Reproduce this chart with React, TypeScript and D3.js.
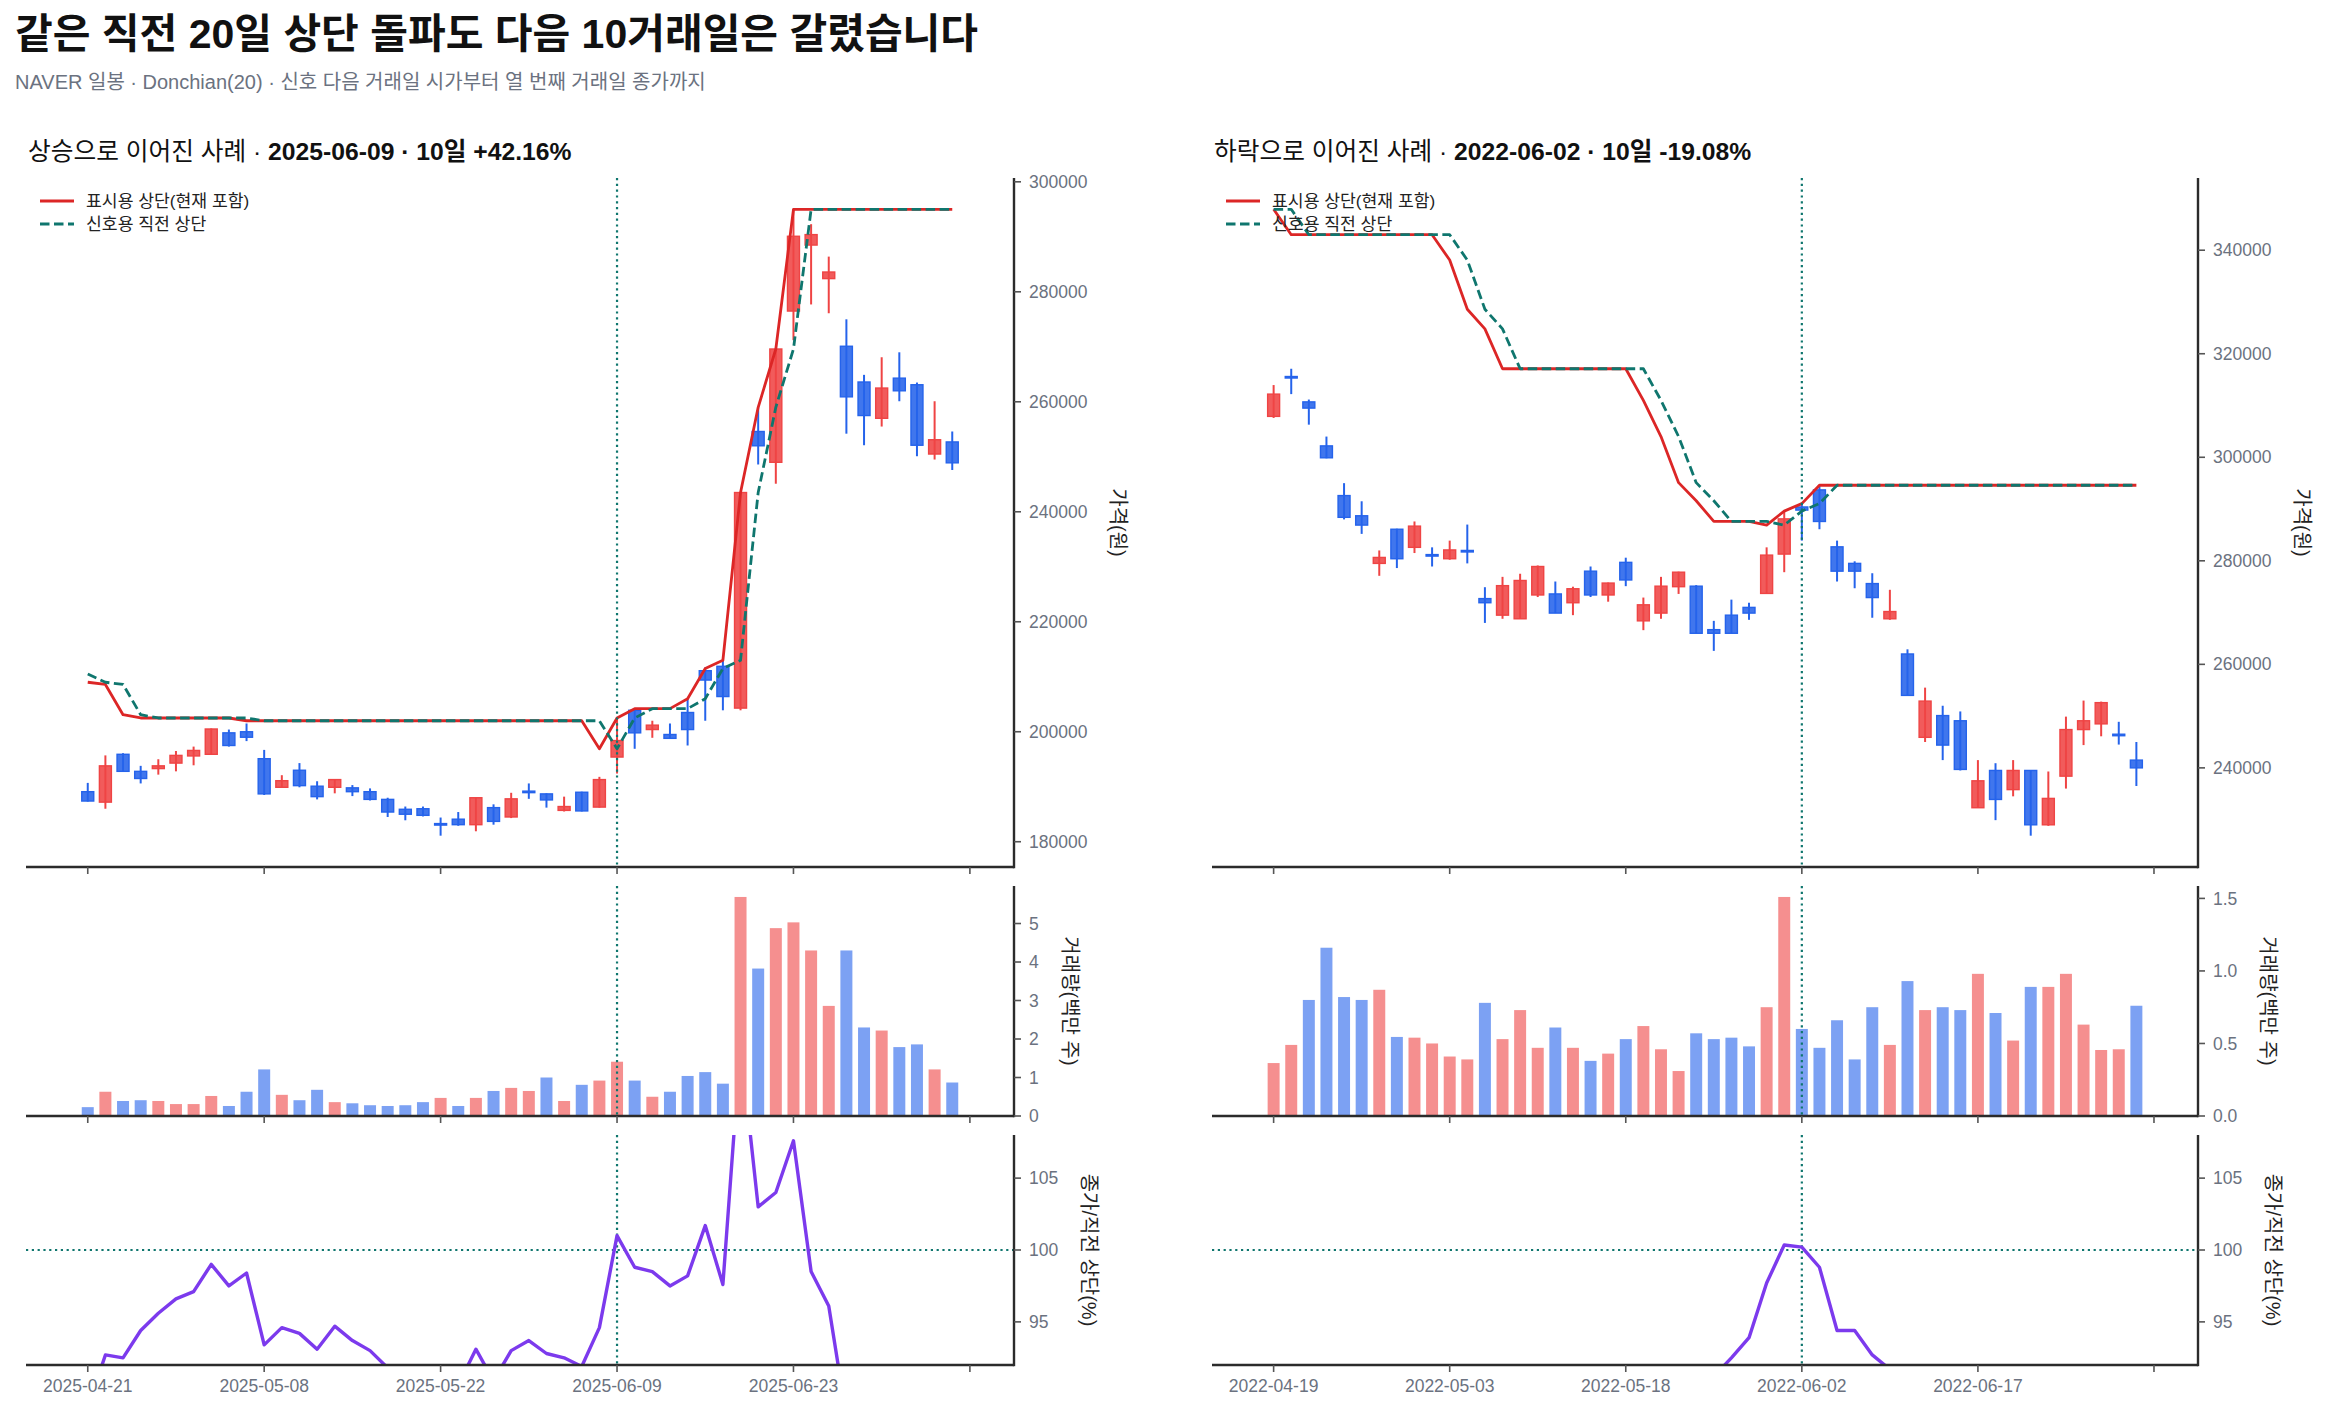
import * as d3 from 'd3';

// ---------- 상승으로 이어진 사례 (신호일 2025-06-09) ----------
const upDates = ['2025-04-21', '2025-05-08', '2025-05-22', '2025-06-09', '2025-06-23', ''];
const upOpen = [
  189100, 187200, 195900, 192800, 193300, 194300, 195600, 195900, 199800, 200000,
  195100, 189900, 193000, 190100, 189900, 189800, 189100, 187700, 185900, 186000,
  183300, 184100, 183100, 186200, 184500, 189200, 188700, 185700, 189000, 186300,
  195400, 203900, 200400, 199500, 203500, 211100, 211900, 204300, 254600, 249000,
  276500, 288500, 282400, 270100, 263600, 257000, 264300, 263100, 250500, 252700,
];
const upHigh = [
  190700, 195700, 196100, 193800, 195000, 196500, 197300, 200600, 200400, 201500,
  196700, 192100, 194300, 191000, 191300, 190300, 189700, 188000, 186400, 186400,
  184400, 185400, 188000, 186800, 188900, 190600, 188800, 188200, 189100, 191800,
  202500, 204300, 202000, 201500, 206000, 211700, 213000, 243500, 259000, 269700,
  295000, 292300, 286400, 275000, 264900, 268100, 269000, 263500, 260100, 254600,
];
const upLow = [
  187300, 186000, 192800, 190600, 192200, 192800, 193900, 195800, 197300, 198300,
  188500, 189800, 189900, 187700, 188800, 188300, 187500, 184500, 183900, 184600,
  181100, 182900, 181900, 183100, 184300, 187800, 186200, 185500, 185500, 186200,
  192400, 196900, 198900, 198700, 197500, 202000, 203900, 203900, 248600, 245100,
  271200, 277700, 276100, 254200, 252100, 255500, 260100, 250100, 249500, 247600,
];
const upClose = [
  187400, 193800, 192800, 191500, 193800, 195700, 196600, 200500, 197500, 199000,
  188700, 191100, 190200, 188200, 191300, 189100, 187700, 185400, 185000, 184800,
  183300, 183100, 188000, 183700, 187800, 189200, 187600, 186400, 185600, 191300,
  198400, 199800, 201200, 198800, 200400, 209400, 206400, 243500, 252000, 269600,
  290100, 290400, 283600, 260900, 257500, 262500, 262000, 252100, 253100, 248900,
];
// 표시용 상단(현재 포함)
const upUpperNow = [
  209000, 208600, 203100, 202500, 202500, 202500, 202500, 202500, 202500, 202000,
  202000, 202000, 202000, 202000, 202000, 202000, 202000, 202000, 202000, 202000,
  202000, 202000, 202000, 202000, 202000, 202000, 202000, 202000, 202000, 196900,
  202500, 204200, 204200, 204200, 206000, 211500, 213000, 243500, 259000, 269600,
  295000, 295000, 295000, 295000, 295000, 295000, 295000, 295000, 295000, 295000,
];
// 신호용 직전 상단
const upUpperPrev = [
  210500, 209000, 208600, 203100, 202500, 202500, 202500, 202500, 202500, 202500,
  202000, 202000, 202000, 202000, 202000, 202000, 202000, 202000, 202000, 202000,
  202000, 202000, 202000, 202000, 202000, 202000, 202000, 202000, 202000, 202000,
  196900, 202500, 204200, 204200, 204200, 206000, 211500, 213000, 243500, 259000,
  269600, 295000, 295000, 295000, 295000, 295000, 295000, 295000, 295000, 295000,
];
// 거래량(백만 주)
const upVolume = [
  0.23, 0.63, 0.39, 0.41, 0.39, 0.31, 0.31, 0.52, 0.26, 0.63,
  1.21, 0.55, 0.41, 0.68, 0.36, 0.33, 0.28, 0.26, 0.28, 0.36,
  0.47, 0.26, 0.47, 0.65, 0.73, 0.65, 1.0, 0.39, 0.81, 0.92,
  1.41, 0.92, 0.5, 0.63, 1.04, 1.14, 0.84, 5.69, 3.83, 4.88,
  5.03, 4.3, 2.86, 4.3, 2.3, 2.22, 1.79, 1.86, 1.21, 0.87,
];
// 종가/직전 상단(%)
const upRatio = [
  89.0, 92.7, 92.5, 94.4, 95.6, 96.6, 97.1, 99.0, 97.5, 98.4,
  93.4, 94.6, 94.2, 93.1, 94.7, 93.7, 93.0, 91.8, 91.6, 91.5,
  90.7, 90.6, 93.1, 90.9, 93.0, 93.7, 92.8, 92.5, 91.9, 94.6,
  101.0, 98.8, 98.5, 97.5, 98.2, 101.7, 97.6, 114.3, 103.0, 104.0,
  107.6, 98.5, 96.1, 88.4, 87.3, 89.0, 88.8, 85.5, 85.8, 84.4,
];
const upPriceTicks = [180000, 200000, 220000, 240000, 260000, 280000, 300000];
const upVolTicks = [0, 1, 2, 3, 4, 5];

// ---------- 하락으로 이어진 사례 (신호일 2022-06-02) ----------
const downDates = ['2022-04-19', '2022-05-03', '2022-05-18', '2022-06-02', '2022-06-17', ''];
const downOpen = [
  307900, 315600, 310700, 302200, 292600, 288700, 279500, 286100, 282600, 281200,
  280400, 282000, 272700, 269500, 268800, 273400, 273600, 271900, 278000, 273400,
  279700, 268400, 269900, 275000, 275100, 266700, 269500, 271000, 273700, 281300,
  290400, 293700, 282700, 279500, 275600, 268800, 262000, 245900, 250100, 249100,
  232300, 239500, 235800, 239500, 229000, 238400, 247400, 248500, 246500, 241500,
];
const downHigh = [
  313950, 317100, 311150, 304000, 295000, 291500, 282000, 286200, 287600, 282600,
  283900, 287000, 274900, 276900, 277500, 279100, 276000, 275000, 278900, 275800,
  280600, 272900, 276900, 277900, 275300, 268400, 272500, 271900, 282600, 289600,
  291000, 294600, 283900, 279900, 277600, 274400, 262900, 255500, 252000, 250900,
  241500, 240900, 241500, 239500, 239300, 249900, 253000, 252800, 248900, 245000,
];
const downLow = [
  307600, 312200, 306300, 299800, 288000, 285200, 277100, 278600, 281500, 278900,
  280200, 279500, 268000, 268800, 268800, 273000, 269900, 269500, 273000, 272100,
  275100, 266600, 268800, 273600, 266000, 262600, 266000, 268600, 273700, 277800,
  283900, 286100, 276000, 274700, 269000, 268600, 254000, 245000, 241500, 239500,
  232300, 229900, 234500, 226900, 228800, 236000, 244400, 246100, 244500, 236500,
];
const downClose = [
  312200, 315600, 309500, 299900, 288400, 286900, 280650, 280400, 286700, 281200,
  282100, 282000, 271900, 275200, 276200, 278900, 269900, 274600, 273400, 275700,
  276300, 271500, 275100, 277800, 266000, 266000, 266000, 269900, 281100, 288100,
  289800, 287600, 278000, 278000, 272900, 270200, 254000, 252900, 244400, 239700,
  237500, 233900, 239500, 229000, 234100, 247400, 249100, 252600, 246500, 240000,
];
const downUpperNow = [
  347900, 343000, 343000, 343000, 343000, 343000, 343000, 343000, 343000, 343000,
  338100, 328600, 324800, 317100, 317100, 317100, 317100, 317100, 317100, 317100,
  317100, 311000, 304000, 295100, 291600, 287600, 287600, 287600, 286900, 289600,
  291050, 294600, 294600, 294600, 294600, 294600, 294600, 294600, 294600, 294600,
  294600, 294600, 294600, 294600, 294600, 294600, 294600, 294600, 294600, 294600,
];
const downUpperPrev = [
  347900, 347900, 343000, 343000, 343000, 343000, 343000, 343000, 343000, 343000,
  343000, 338100, 328600, 324800, 317100, 317100, 317100, 317100, 317100, 317100,
  317100, 317100, 311000, 304000, 295100, 291600, 287600, 287600, 287600, 286900,
  289600, 291050, 294600, 294600, 294600, 294600, 294600, 294600, 294600, 294600,
  294600, 294600, 294600, 294600, 294600, 294600, 294600, 294600, 294600, 294600,
];
const downVolume = [
  0.365, 0.49, 0.8, 1.16, 0.82, 0.8, 0.87, 0.545, 0.54, 0.5,
  0.41, 0.39, 0.78, 0.53, 0.73, 0.47, 0.61, 0.47, 0.38, 0.43,
  0.53, 0.62, 0.46, 0.31, 0.57, 0.53, 0.54, 0.48, 0.75, 1.51,
  0.6, 0.47, 0.66, 0.39, 0.75, 0.49, 0.93, 0.73, 0.75, 0.73,
  0.98, 0.71, 0.52, 0.89, 0.89, 0.98, 0.63, 0.455, 0.46, 0.76,
];
const downRatio = [
  89.7, 90.7, 90.2, 87.4, 84.1, 83.6, 81.8, 81.7, 83.6, 82.0,
  82.2, 83.4, 82.7, 84.7, 87.1, 88.0, 85.1, 86.6, 86.2, 86.9,
  87.1, 85.6, 88.5, 91.4, 90.1, 91.2, 92.5, 93.9, 97.7, 100.35,
  100.2, 98.8, 94.4, 94.4, 92.7, 91.7, 86.2, 85.8, 83.0, 81.4,
  80.6, 79.4, 81.3, 77.7, 79.5, 84.0, 84.6, 85.7, 83.6, 81.5,
];
const downPriceTicks = [240000, 260000, 280000, 300000, 320000, 340000];
const downVolTicks = [0, 0.5, 1.0, 1.5];

const ratioTicks = [95, 100, 105];
const legendLabels = ['표시용 상단(현재 포함)', '신호용 직전 상단'];
const SIGNAL = 30;

// ---------- layout ----------
const W = 2328;
const H = 1411;
const FONT = '"Liberation Sans", "Noto Sans CJK KR", sans-serif';
const PRICE = { top: 178, bottom: 867 };
const VOL = { top: 886, bottom: 1116 };
const RATIO = { top: 1135, bottom: 1365 };

const UP = '#ef4444';
const DOWN = '#2563eb';
const NOW_COLOR = '#dc2626';
const PREV_COLOR = '#0f766e';
const RATIO_COLOR = '#7c3aed';
const INK = '#2b2b2b';
const MUTED = '#6b7280';
const TICK_SIZE = 17.5;

const textW = (s: string) =>
  [...s].reduce((a, c) => a + (c === '.' ? 0.278 : 0.556), 0) * TICK_SIZE;

interface PanelProps {
  id: string;
  left: number;
  right: number;
  heading: string;
  headingBold: string;
  dates: string[];
  open: number[];
  high: number[];
  low: number[];
  close: number[];
  upperNow: number[];
  upperPrev: number[];
  volume: number[];
  ratio: number[];
  priceTicks: number[];
  volTicks: number[];
  volDigits: number;
}

const Panel = (p: PanelProps) => {
  const x = d3.scaleLinear().domain([-3.5, 52.5]).range([p.left, p.right]);
  const step = x(1) - x(0);
  const bw = step * 0.68;

  const [pmin, pmax] = d3.extent([...p.high, ...p.low, ...p.upperNow, ...p.upperPrev]) as [number, number];
  const pad = (pmax - pmin) * 0.05;
  const yP = d3.scaleLinear().domain([pmin - pad, pmax + pad]).range([PRICE.bottom, PRICE.top]);
  const yV = d3.scaleLinear().domain([0, d3.max(p.volume)! * 1.05]).range([VOL.bottom, VOL.top]);
  const yR = d3.scaleLinear().domain([92, 108]).range([RATIO.bottom, RATIO.top]);

  const idx = d3.range(p.close.length);
  const xTicks = d3.range(0, 51, 10);
  const priceLine = d3.line<number>().x((_, i) => x(i)).y(d => yP(d));
  const ratioLine = d3.line<number>().x((_, i) => x(i)).y(d => yR(d));
  const sx = x(SIGNAL);

  const priceFmt = (v: number) => String(v);
  const volFmt = (v: number) => v.toFixed(p.volDigits);
  const ratioFmt = (v: number) => String(v);

  const rightAxis = (
    top: number,
    bottom: number,
    ticks: number[],
    scale: d3.ScaleLinear<number, number>,
    fmt: (v: number) => string,
    label: string,
  ) => {
    const maxW = d3.max(ticks, t => textW(fmt(t)))!;
    const lx = p.right + 15 + maxW + 31;
    return (
      <g>
        <line x1={p.left} x2={p.right} y1={bottom} y2={bottom} stroke={INK} strokeWidth={2.4} />
        <line x1={p.right} x2={p.right} y1={top} y2={bottom + 1.2} stroke={INK} strokeWidth={2.4} />
        {xTicks.map(t => (
          <line key={t} x1={x(t)} x2={x(t)} y1={bottom} y2={bottom + 7} stroke="#555" strokeWidth={1.6} />
        ))}
        {ticks.map(t => (
          <g key={t}>
            <line x1={p.right} x2={p.right + 7} y1={scale(t)} y2={scale(t)} stroke="#555" strokeWidth={1.6} />
            <text x={p.right + 15} y={scale(t)} dy="0.35em" fontSize={TICK_SIZE} fill={MUTED}>
              {fmt(t)}
            </text>
          </g>
        ))}
        <text
          transform={`translate(${lx},${(top + bottom) / 2}) rotate(90)`}
          textAnchor="middle"
          dy="0.35em"
          fontSize={20}
          fill="#222"
        >
          {label}
        </text>
      </g>
    );
  };

  const signalLine = (top: number, bottom: number) => (
    <line x1={sx} x2={sx} y1={top} y2={bottom} stroke={PREV_COLOR} strokeWidth={2.2} strokeDasharray="2.2,3.6" />
  );

  return (
    <g fontFamily={FONT}>
      <text x={p.left + 2} y={160} fontSize={24.7} fill="#111">
        {p.heading}
        <tspan fontWeight="bold">{p.headingBold}</tspan>
      </text>

      {/* price */}
      {idx.map(i => {
        const o = p.open[i];
        const c = p.close[i];
        const col = c > o ? UP : DOWN;
        const yt = yP(Math.max(o, c));
        const yb = yP(Math.min(o, c));
        return (
          <g key={i}>
            <line x1={x(i)} x2={x(i)} y1={yP(p.high[i])} y2={yP(p.low[i])} stroke={col} strokeWidth={2} />
            <rect
              x={x(i) - bw / 2}
              y={yt}
              width={bw}
              height={Math.max(yb - yt, 1.5)}
              fill={col}
              fillOpacity={0.88}
              stroke={col}
              strokeWidth={1.4}
            />
          </g>
        );
      })}
      <path d={priceLine(p.upperNow)!} fill="none" stroke={NOW_COLOR} strokeWidth={2.8} strokeLinejoin="round" />
      <path
        d={priceLine(p.upperPrev)!}
        fill="none"
        stroke={PREV_COLOR}
        strokeWidth={2.8}
        strokeDasharray="9.5,4.5"
        strokeLinejoin="round"
      />
      {signalLine(PRICE.top, PRICE.bottom)}
      {rightAxis(PRICE.top, PRICE.bottom, p.priceTicks, yP, priceFmt, '가격(원)')}

      {legendLabels.map((lab, k) => {
        const ly = 201 + k * 23;
        return (
          <g key={lab}>
            <line
              x1={p.left + 14}
              x2={p.left + 48}
              y1={ly}
              y2={ly}
              stroke={k === 0 ? NOW_COLOR : PREV_COLOR}
              strokeWidth={2.8}
              strokeDasharray={k === 0 ? undefined : '9.5,4.5'}
            />
            <text x={p.left + 60} y={ly} dy="0.35em" fontSize={17.2} fill="#222">
              {lab}
            </text>
          </g>
        );
      })}

      {/* volume */}
      {idx.map(i => (
        <rect
          key={i}
          x={x(i) - bw / 2}
          y={yV(p.volume[i])}
          width={bw}
          height={VOL.bottom - yV(p.volume[i])}
          fill={p.close[i] >= p.open[i] ? UP : DOWN}
          fillOpacity={0.6}
        />
      ))}
      {signalLine(VOL.top, VOL.bottom)}
      {rightAxis(VOL.top, VOL.bottom, p.volTicks, yV, volFmt, '거래량(백만 주)')}

      {/* ratio */}
      <defs>
        <clipPath id={`clip-${p.id}`}>
          <rect x={p.left} y={RATIO.top} width={p.right - p.left} height={RATIO.bottom - RATIO.top} />
        </clipPath>
      </defs>
      <line
        x1={p.left}
        x2={p.right}
        y1={yR(100)}
        y2={yR(100)}
        stroke={PREV_COLOR}
        strokeWidth={2.2}
        strokeDasharray="2.2,3.6"
      />
      {signalLine(RATIO.top, RATIO.bottom)}
      <path
        d={ratioLine(p.ratio)!}
        fill="none"
        stroke={RATIO_COLOR}
        strokeWidth={3.4}
        strokeLinejoin="round"
        clipPath={`url(#clip-${p.id})`}
      />
      {rightAxis(RATIO.top, RATIO.bottom, ratioTicks, yR, ratioFmt, '종가/직전 상단(%)')}
      {xTicks.map((t, k) => (
        <text key={t} x={x(t)} y={1392} textAnchor="middle" fontSize={TICK_SIZE} fill={MUTED}>
          {p.dates[k]}
        </text>
      ))}
    </g>
  );
};

export default function App() {
  return (
    <>
      <style>{`body{margin:0}`}</style>
      <svg width={W} height={H} style={{ display: 'block', background: '#fff' }} fontFamily={FONT}>
        <text x={15} y={48} fontSize={41} fontWeight="bold" fill="#111">
          같은 직전 20일 상단 돌파도 다음 10거래일은 갈렸습니다
        </text>
        <text x={15} y={89} fontSize={20} fill={MUTED}>
          NAVER 일봉 · Donchian(20) · 신호 다음 거래일 시가부터 열 번째 거래일 종가까지
        </text>
        <Panel
          id="up"
          left={26}
          right={1014}
          heading="상승으로 이어진 사례 · "
          headingBold="2025-06-09 · 10일 +42.16%"
          dates={upDates}
          open={upOpen}
          high={upHigh}
          low={upLow}
          close={upClose}
          upperNow={upUpperNow}
          upperPrev={upUpperPrev}
          volume={upVolume}
          ratio={upRatio}
          priceTicks={upPriceTicks}
          volTicks={upVolTicks}
          volDigits={0}
        />
        <Panel
          id="down"
          left={1212}
          right={2198}
          heading="하락으로 이어진 사례 · "
          headingBold="2022-06-02 · 10일 -19.08%"
          dates={downDates}
          open={downOpen}
          high={downHigh}
          low={downLow}
          close={downClose}
          upperNow={downUpperNow}
          upperPrev={downUpperPrev}
          volume={downVolume}
          ratio={downRatio}
          priceTicks={downPriceTicks}
          volTicks={downVolTicks}
          volDigits={1}
        />
      </svg>
    </>
  );
}
